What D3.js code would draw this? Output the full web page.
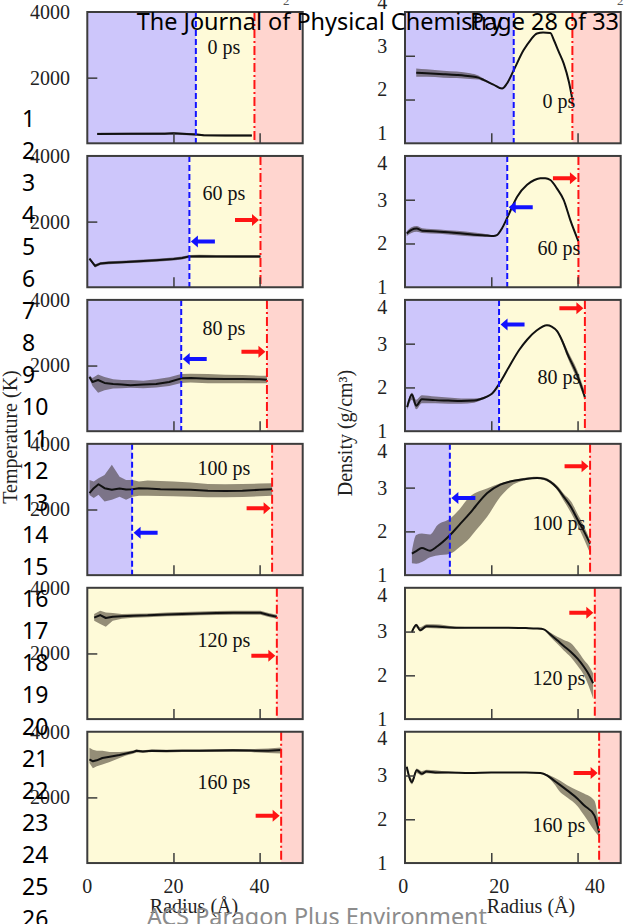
<!DOCTYPE html>
<html>
<head>
<meta charset="utf-8">
<script src="https://cdn.jsdelivr.net/npm/d3@7"></script>
<style>
  body { margin: 0; background: #fff; }
  svg { display: block; }
</style>
</head>
<body>
<svg id="fig" width="625" height="924"></svg>
<script>
// ---- data ------------------------------------------------------------
const snapshots = ["0 ps", "60 ps", "80 ps", "100 ps", "120 ps", "160 ps"];

// inner (blue) and outer (red) front radii, Å
const innerFront = [25.2, 23.7, 21.8, 10.4, null, null];
const outerFront = [38.8, 40.2, 41.7, 42.9, 44.0, 45.0];

// temperature profiles: [radius Å, mean K, lower K, upper K]
const temp0 = [[2.3,285,250,320],[10,290,255,325],[18,292,257,327],[20,305,270,340],[22,290,255,325],
  [25.2,270,235,305],[27,245,215,275],[32,240,210,270],[38.2,240,210,270]];
const temp60 = [[0.5,870,830,910],[1.8,650,605,700],[3,720,675,765],[5,745,700,790],[8,765,720,810],
  [12,790,745,835],[16,820,775,865],[20,860,815,905],[22,890,845,935],[23.7,940,895,985],
  [26,945,900,990],[30,940,895,985],[35,935,890,980],[40.2,935,890,980]];
const temp80 = [[0.5,1650,1600,1700],[1.2,1500,1380,1620],[2.5,1560,1170,1730],[4,1470,1250,1650],
  [6,1440,1300,1580],[8,1420,1310,1560],[10,1400,1320,1560],[13,1420,1310,1540],[16,1440,1330,1580],
  [19,1500,1380,1640],[21.8,1610,1470,1740],[24,1620,1480,1750],[28,1600,1460,1740],[32,1590,1460,1720],
  [36,1590,1460,1710],[40,1580,1460,1690],[41.7,1570,1460,1690]];
const temp100 = [[0.5,2500,2440,2900],[1.5,2650,2350,2850],[2.6,2770,2450,2950],[4,2650,2240,3050],
  [5.7,2600,2300,3360],[7.5,2640,2390,3000],[9,2610,2300,2900],[10.5,2620,2390,2900],[12,2650,2420,2850],
  [14,2640,2420,2880],[17,2620,2410,2870],[20,2610,2400,2850],[24,2600,2390,2820],[28,2570,2370,2780],
  [32,2560,2370,2770],[36,2570,2380,2780],[40,2600,2400,2790],[42.9,2620,2420,2800]];
const temp120 = [[1.6,3090,3000,3200],[3,3170,2900,3300],[4.3,3080,2810,3250],[5.9,3120,3000,3230],
  [8,3130,3060,3200],[10.7,3150,3090,3210],[14,3160,3100,3220],[18.5,3190,3130,3250],[22,3200,3140,3260],
  [26.2,3220,3160,3280],[30,3230,3170,3290],[34,3240,3180,3300],[38,3240,3180,3300],[40.2,3240,3180,3300],
  [42.1,3170,3110,3230],[44,3120,3060,3180]];
const temp160 = [[0.5,3160,3050,3510],[1.3,3100,2890,3450],[2.2,3130,2950,3420],[3.5,3200,3000,3420],
  [5.2,3240,3080,3380],[7.5,3290,3200,3380],[9,3340,3280,3400],[10.6,3380,3330,3430],[11.4,3420,3370,3460],
  [12.9,3400,3360,3440],[15,3420,3380,3460],[18.3,3410,3370,3450],[22,3420,3380,3460],[26,3420,3380,3460],
  [30,3425,3385,3465],[33.8,3435,3395,3475],[38,3425,3380,3470],[42,3420,3350,3490],[45,3445,3340,3520]];

// density profiles: [radius Å, mean g/cm3, lower, upper]
const dens0 = [[2.6,2.61,2.52,2.71],[5,2.60,2.52,2.69],[8.9,2.58,2.50,2.66],[12,2.56,2.49,2.64],
  [15.1,2.53,2.47,2.60],[17,2.50,2.46,2.55],[18.2,2.45,2.42,2.48],[20.5,2.34,2.33,2.35],[22.5,2.25,2.24,2.26],
  [23.6,2.36,2.35,2.37],[25.2,2.67,2.66,2.68],[27.5,3.13,3.12,3.14],[29.1,3.36,3.35,3.37],[30.6,3.51,3.50,3.52],
  [32,3.53,3.52,3.54],[33.7,3.52,3.51,3.53],[34.5,3.36,3.35,3.37],[35.6,3.10,3.09,3.11],[36.8,2.82,2.81,2.83],
  [38.0,2.40,2.39,2.41],[38.8,2.00,1.99,2.01]];
const dens60 = [[0.4,2.23,2.17,2.28],[1.5,2.31,2.24,2.37],[2.7,2.34,2.27,2.40],[4,2.29,2.24,2.35],
  [8,2.27,2.22,2.32],[12,2.24,2.19,2.29],[16,2.20,2.16,2.25],[19,2.18,2.15,2.21],[20.5,2.17,2.16,2.18],
  [21.3,2.19,2.18,2.20],[22.5,2.35,2.34,2.36],[23.8,2.61,2.60,2.62],[26,3.07,3.06,3.08],[28.3,3.34,3.33,3.35],
  [30,3.45,3.44,3.46],[31.4,3.49,3.48,3.50],[32.5,3.49,3.48,3.50],[33.7,3.45,3.44,3.46],[35.2,3.26,3.25,3.27],
  [36.8,2.99,2.98,3.00],[38.3,2.54,2.52,2.56],[40.2,2.05,2.02,2.08]];
const dens80 = [[0.5,1.55,1.48,1.62],[1.6,1.84,1.72,1.88],[2.6,1.58,1.50,1.72],[3.9,1.73,1.64,1.82],
  [7,1.71,1.64,1.79],[10,1.70,1.63,1.77],[13,1.69,1.63,1.75],[16,1.70,1.65,1.75],[17.4,1.73,1.70,1.76],
  [19,1.79,1.77,1.81],[20.2,1.86,1.85,1.87],[21.9,2.09,2.08,2.10],[24.4,2.52,2.51,2.53],[26.5,2.86,2.85,2.87],
  [28.3,3.09,3.08,3.10],[30.5,3.30,3.29,3.31],[32.9,3.42,3.41,3.43],[34,3.39,3.38,3.40],[35.3,3.28,3.26,3.30],
  [36.5,3.05,3.00,3.10],[37.6,2.78,2.70,2.86],[39.9,2.29,2.18,2.40],[41.7,1.78,1.70,1.90]];
const dens100 = [[1.6,1.49,1.27,1.55],[2.6,1.55,1.26,1.92],[3.9,1.62,1.30,1.95],[5.8,1.56,1.41,1.93],
  [7.5,1.66,1.45,2.14],[10.4,1.91,1.49,2.29],[12.6,2.15,1.64,2.50],[15,2.41,1.85,2.79],[16.4,2.58,2.02,2.88],
  [19,2.87,2.33,2.98],[22.1,3.07,2.79,3.10],[24.4,3.14,3.02,3.16],[27.5,3.19,3.16,3.22],[30.6,3.22,3.20,3.25],
  [32.3,3.20,3.17,3.23],[33.7,3.13,3.10,3.17],[35.3,2.99,2.94,3.04],[36.8,2.79,2.70,2.86],[38.5,2.55,2.42,2.68],
  [39.9,2.29,2.15,2.42],[41.5,2.00,1.82,2.12],[42.9,1.72,1.50,1.80]];
const dens120 = [[1.6,2.99,2.96,3.02],[2.6,3.15,3.10,3.18],[3.5,3.03,3.00,3.10],[5,3.12,3.08,3.17],
  [8,3.11,3.07,3.16],[12,3.09,3.07,3.11],[16,3.09,3.08,3.10],[20,3.09,3.08,3.10],[24,3.09,3.08,3.10],
  [28,3.08,3.07,3.09],[30.5,3.07,3.06,3.08],[32.2,3.05,3.03,3.06],[33.5,2.95,2.90,2.99],[35.3,2.80,2.72,2.88],
  [36.8,2.67,2.57,2.81],[38.4,2.54,2.42,2.74],[40,2.38,2.22,2.56],[41.5,2.19,2.00,2.35],[42.6,2.02,1.75,2.22],
  [43.6,1.82,1.47,2.05]];
const dens160 = [[0.4,3.20,3.14,3.24],[1.6,2.85,2.80,2.92],[2.7,3.12,3.06,3.16],[3.9,3.04,3.00,3.10],
  [5,3.09,3.05,3.13],[7,3.07,3.04,3.12],[10,3.07,3.05,3.09],[15,3.06,3.05,3.07],[20,3.07,3.06,3.08],
  [25,3.07,3.06,3.08],[28,3.07,3.06,3.08],[31.4,3.06,3.05,3.07],[33,3.00,2.97,3.03],[34.5,2.89,2.82,2.96],
  [36,2.78,2.62,2.88],[37.6,2.66,2.50,2.78],[40,2.47,2.30,2.66],[41.5,2.32,2.09,2.59],[43.9,2.09,1.74,2.43],
  [45,1.70,1.60,1.85]];

const temperature = [temp0, temp60, temp80, temp100, temp120, temp160];
const density = [dens0, dens60, dens80, dens100, dens120, dens160];

// heights at which the front-motion arrows sit
const tempArrowOuter = [null, 2050, 2420, 2040, 1930, 1440];
const tempArrowInner = [null, 1390, 2200, 1290, null, null];
const densArrowOuter = [null, 3.49, 3.81, 3.49, 3.43, 3.06];
const densArrowInner = [null, 2.83, 3.44, 2.76, null, null];

// axis ticks
const radiusTicks = [0, 20, 40];
const radiusMarks = [20, 40];
const tempTickLabels = [2000, 4000];
const tempTickMarks = [2000];
const densTickLabels = [1, 2, 3, 4];
const densTickMarks = [2, 3];

// ---- layout ----------------------------------------------------------
const svg = d3.select("#fig");
const SERIF = "'Liberation Serif', 'Times New Roman', serif";
const SANS = "'Noto Sans', 'Open Sans', sans-serif";
const cols = [
  { x0: 87.3, x1: 302.7, yDomain: [0, 4000] },
  { x0: 405, x1: 620.7, yDomain: [1, 4] }
];
const rowTop = i => 12 + i * 143.95;
const panelH = 131.3;
const labelDy = [[42, 44.5, 35, 31, 59, 57.6], [96.3, 99, 84, 86, 97, 100]];
const labelCx = [224, 559];

const C = {
  inner: "#cdc6fb", shell: "#fefad8", outer: "#ffd5cf",
  band: "rgba(50,40,30,0.52)", line: "#111", blue: "#1212ff", red: "#ff1414",
  frame: "#3c3c3c"
};

function arrow(g, tipX, y, dir, color) {
  const len = 24, head = 7, hw = 6, sw = 2;
  const tail = tipX - dir * len, neck = tipX - dir * head;
  g.append("path")
    .attr("d", `M${tail},${y - sw}L${neck},${y - sw}L${neck},${y - hw}L${tipX},${y}` +
               `L${neck},${y + hw}L${neck},${y + sw}L${tail},${y + sw}Z`)
    .attr("fill", color);
}

snapshots.forEach((label, i) => {
  cols.forEach((col, c) => {
    const top = rowTop(i), bottom = top + panelH;
    const x = d3.scaleLinear().domain([0, 50]).range([col.x0, col.x1]);
    const y = d3.scaleLinear().domain(col.yDomain).range([bottom, top]);
    const g = svg.append("g");
    const id = `clip-${i}-${c}`;
    g.append("clipPath").attr("id", id).append("rect")
      .attr("x", col.x0).attr("y", top).attr("width", col.x1 - col.x0).attr("height", panelH);
    const body = g.append("g").attr("clip-path", `url(#${id})`);

    const rIn = innerFront[i], rOut = outerFront[i];
    // regions: core, shell, outside
    if (rIn != null) {
      body.append("rect").attr("x", x(0)).attr("y", top)
        .attr("width", x(rIn) - x(0)).attr("height", panelH).attr("fill", C.inner);
    }
    const shellStart = rIn != null ? rIn : 0;
    body.append("rect").attr("x", x(shellStart)).attr("y", top)
      .attr("width", x(rOut) - x(shellStart)).attr("height", panelH).attr("fill", C.shell);
    body.append("rect").attr("x", x(rOut)).attr("y", top)
      .attr("width", x(50) - x(rOut)).attr("height", panelH).attr("fill", C.outer);

    // profile with spread band
    const series = c === 0 ? temperature[i] : density[i];
    const curve = c === 0 ? d3.curveLinear : d3.curveMonotoneX;
    body.append("path").datum(series)
      .attr("d", d3.area().x(d => x(d[0])).y0(d => y(d[2])).y1(d => y(d[3])).curve(curve))
      .attr("fill", C.band);
    body.append("path").datum(series)
      .attr("d", d3.line().x(d => x(d[0])).y(d => y(d[1])).curve(curve))
      .attr("fill", "none").attr("stroke", C.line).attr("stroke-width", 2)
      .attr("stroke-linejoin", "round");

    // fronts
    if (rIn != null) {
      body.append("line").attr("x1", x(rIn)).attr("x2", x(rIn)).attr("y1", top).attr("y2", bottom)
        .attr("stroke", C.blue).attr("stroke-width", 2).attr("stroke-dasharray", "6,3");
    }
    body.append("line").attr("x1", x(rOut)).attr("x2", x(rOut)).attr("y1", top).attr("y2", bottom)
      .attr("stroke", C.red).attr("stroke-width", 2).attr("stroke-dasharray", "9,3,2,3");

    // front-motion arrows
    const aOut = c === 0 ? tempArrowOuter[i] : densArrowOuter[i];
    const aIn = c === 0 ? tempArrowInner[i] : densArrowInner[i];
    if (aOut != null) arrow(body, x(rOut) - 1.5, y(aOut), 1, C.red);
    if (aIn != null && rIn != null) arrow(body, x(rIn) + 1.5, y(aIn), -1, C.blue);

    // snapshot label
    g.append("text").attr("x", labelCx[c]).attr("y", top + labelDy[c][i])
      .attr("text-anchor", "middle").attr("font-family", SERIF).attr("font-size", 20)
      .attr("fill", "#111").text(label);

    // inward ticks
    const tickMarks = c === 0 ? tempTickMarks : densTickMarks;
    g.append("g").attr("transform", `translate(${col.x0},0)`)
      .call(d3.axisLeft(y).tickValues(tickMarks).tickSize(-10).tickFormat(""))
      .call(s => s.select(".domain").remove())
      .call(s => s.selectAll("line").attr("stroke", C.frame).attr("stroke-width", 1.5));
    g.append("g").attr("transform", `translate(0,${bottom})`)
      .call(d3.axisBottom(x).tickValues(radiusMarks).tickSize(-10).tickFormat(""))
      .call(s => s.select(".domain").remove())
      .call(s => s.selectAll("line").attr("stroke", C.frame).attr("stroke-width", 1.5));

    // y tick labels
    const labelVals = c === 0 ? tempTickLabels : densTickLabels;
    const yl = g.append("g").attr("transform", `translate(${col.x0},0)`)
      .call(d3.axisLeft(y).tickValues(labelVals).tickSize(0).tickPadding(c === 0 ? 17.3 : 17.7)
        .tickFormat(d3.format("d")))
      .call(s => s.select(".domain").remove());
    yl.selectAll("text").attr("font-family", SERIF).attr("font-size", 20).attr("fill", "#222")
      .attr("dy", d => {
        if (c === 1 && i === 0) return "-0.18em";
        if (c === 1 && d === 4) return "0.66em";
        return "0.32em";
      });

    // frame
    g.append("rect").attr("x", col.x0).attr("y", top)
      .attr("width", col.x1 - col.x0).attr("height", panelH)
      .attr("fill", "none").attr("stroke", C.frame).attr("stroke-width", 2);

    // radius labels under the last row
    if (i === snapshots.length - 1) {
      const xl = c === 0 ? x : d3.scaleLinear().domain([0, 40]).range([403.3, 595]);
      g.selectAll(null).data(radiusTicks).join("text")
        .attr("x", d => xl(d)).attr("y", 893).attr("text-anchor", "middle")
        .attr("font-family", SERIF).attr("font-size", 20).attr("fill", "#222")
        .text(d => d);
      g.append("text").attr("x", c === 0 ? 194 : 531).attr("y", 913)
        .attr("text-anchor", "middle").attr("font-family", SERIF).attr("font-size", 20)
        .attr("fill", "#222").text("Radius (Å)");
    }
  });
});

// y axis titles
svg.append("text").attr("transform", "translate(17,437) rotate(-90)")
  .attr("text-anchor", "middle").attr("font-family", SERIF).attr("font-size", 20)
  .attr("fill", "#222").text("Temperature (K)");
svg.append("text").attr("transform", "translate(352,433) rotate(-90)")
  .attr("text-anchor", "middle").attr("font-family", SERIF).attr("font-size", 20)
  .attr("fill", "#222").text("Density (g/cm³)");

// manuscript page furniture
const lineNumbers = d3.range(1, 27);
svg.selectAll(".ln").data(lineNumbers).join("text").attr("class", "ln")
  .attr("x", 22).attr("y", d => 126.7 + (d - 1) * 32)
  .attr("font-family", SANS).attr("font-size", 23).attr("fill", "#000").text(d => d);
svg.append("text").attr("x", 136.7).attr("y", 30)
  .attr("font-family", SANS).attr("font-size", 23).attr("fill", "#000")
  .attr("textLength", 366).attr("lengthAdjust", "spacingAndGlyphs")
  .text("The Journal of Physical Chemistry");
svg.append("text").attr("x", 470).attr("y", 30)
  .attr("font-family", SANS).attr("font-size", 23).attr("fill", "#000")
  .attr("textLength", 149).attr("lengthAdjust", "spacingAndGlyphs")
  .text("Page 28 of 33");
svg.append("text").attr("x", 147).attr("y", 925)
  .attr("font-family", SANS).attr("font-size", 23).attr("fill", "#8c8c8c")
  .attr("textLength", 340).attr("lengthAdjust", "spacingAndGlyphs")
  .text("ACS Paragon Plus Environment");
[283, 617].forEach(px => {
  svg.append("text").attr("x", px).attr("y", 5)
    .attr("font-family", SERIF).attr("font-size", 13).attr("fill", "#555").text("2");
});
</script>
</body>
</html>
